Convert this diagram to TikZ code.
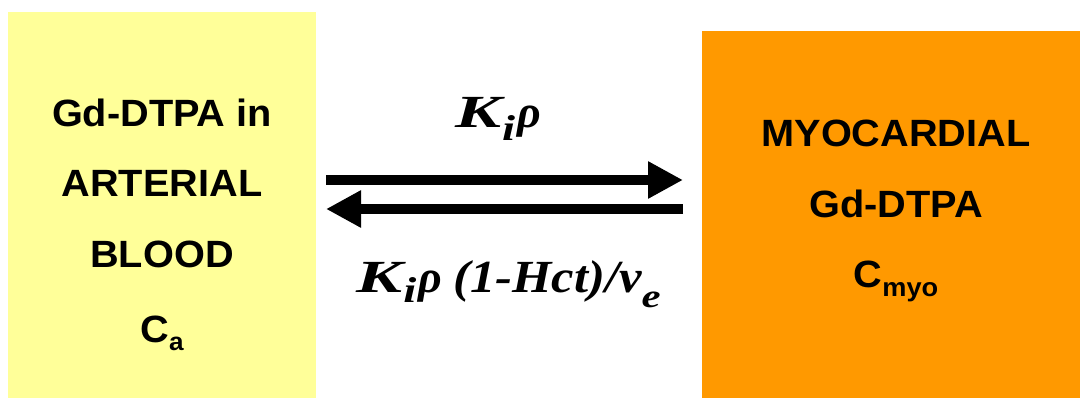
\documentclass[tikz,border=0pt]{standalone}
\usepackage{fontspec}
\setmainfont{Liberation Sans}
\newfontfamily\tnr{Liberation Serif}
\usetikzlibrary{arrows.meta}
\definecolor{boxyellow}{HTML}{FFFF99}
\definecolor{boxorange}{HTML}{FF9900}
\newcommand{\wideK}{\scalebox{1.5}[1]{K}}
% #1 drop, #2 size, #3 horizontal stretch, #4 text
\newcommand{\lowsub}[4]{\raisebox{-#1pt}{\scalebox{#3}[1]{\fontsize{#2}{#2}\selectfont #4}}}
\newcommand{\hs}[1]{\scalebox{1.045}[1]{#1}}
\begin{document}
\begin{tikzpicture}[x=1pt,y=-1pt,
  box/.style={inner sep=0pt,outer sep=0pt,anchor=north west},
  lbl/.style={font=\fontsize{38}{38}\selectfont\bfseries,anchor=base,inner sep=0pt},
  rate/.style={font=\tnr\bfseries\itshape\fontsize{46}{46}\selectfont,anchor=base,inner sep=0pt},
  flow/.style={line width=10pt,-{Triangle[length=35pt,width=35pt]}}]
\useasboundingbox (0,0) rectangle (1080,398);
\node[box,fill=boxyellow,minimum width=308pt,minimum height=386pt] (L) at (8,12) {};
\node[box,fill=boxorange,minimum width=378pt,minimum height=367pt] (R) at (702,31) {};
% left text
\node[lbl] (l1) at (162,127) {\hs{Gd-DTPA in}};
\node[lbl] (l2) at (162,197) {\hs{ARTERIAL}};
\node[lbl] (l3) at (162,268) {\hs{BLOOD}};
\node[lbl] (l4) at (162,342) {\hs{C\raisebox{-8pt}{\fontsize{25}{25}\selectfont a}}};
% right text
\node[lbl] (r1) at (896,147) {\hs{MYOCARDIAL}};
\node[lbl] (r2) at (896,218) {\hs{Gd-DTPA}};
\node[lbl] (r3) at (896,288) {\hs{C\raisebox{-9pt}{\fontsize{26}{26}\selectfont myo}}};
% arrows
\coordinate (a1) at (326,180);
\coordinate (a2) at (683,180);
\coordinate (b1) at (683,209);
\coordinate (b2) at (326,209);
\draw[flow] (a1) -- (a2);
\draw[flow] (b1) -- (b2);
% rate labels
\node[rate] (k1) at (498,128)
  {\wideK\kern1pt\lowsub{13}{36}{1.3}{i}\kern2pt ρ};
\node[rate] (k2) at (508.5,293)
  {\wideK\kern1pt\lowsub{10}{36}{1.3}{i}\kern2pt ρ \scalebox{1.1}[1]{(1-Hct)/v}\lowsub{15}{33}{1.3}{e}};
\end{tikzpicture}
\end{document}
